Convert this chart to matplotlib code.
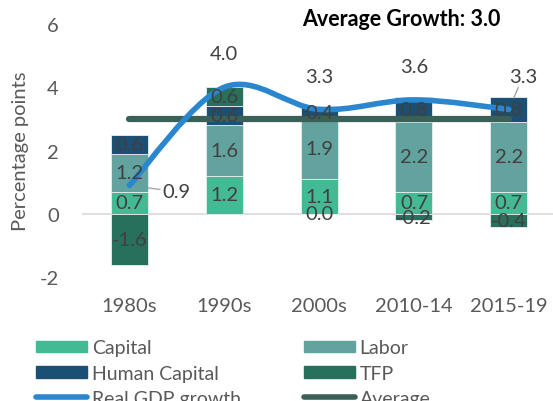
import matplotlib.pyplot as plt
import numpy as np
from matplotlib.patches import Patch, PathPatch
from matplotlib.lines import Line2D
from matplotlib.path import Path

plt.rcParams["font.family"] = ["Lato", "DejaVu Sans"]
plt.rcParams["axes.unicode_minus"] = False

# Data
periods = ["1980s", "1990s", "2000s", "2010-14", "2015-19"]
capital = [0.7, 1.2, 1.1, 0.7, 0.7]
labor = [1.2, 1.6, 1.9, 2.2, 2.2]
human_capital = [0.6, 0.6, 0.4, 0.8, 0.8]
tfp = [-1.6, 0.6, 0.0, -0.2, -0.4]
gdp_growth = [0.9, 4.0, 3.3, 3.6, 3.3]
average = 3.0

series = [
    ("Capital", capital, "#43BA94"),
    ("Labor", labor, "#62A39F"),
    ("Human Capital", human_capital, "#1B4F73"),
    ("TFP", tfp, "#27705C"),
]
gdp_color = "#2A86CF"
avg_color = "#3A6058"
label_color = "#404040"
tick_color = "#595959"

fig = plt.figure(figsize=(5.53, 4.02), dpi=100)
ax = fig.add_axes([0.148, 0.308, 0.858, 0.63])

x = np.arange(len(periods))
pos_bottom = np.zeros(len(periods))
neg_bottom = np.zeros(len(periods))

# Stacked bars with labels in the middle of each segment
for name, vals, color in series:
    vals = np.array(vals)
    bottoms = np.where(vals > 0, pos_bottom, neg_bottom)
    ax.bar(x, vals, 0.39, bottom=bottoms, color=color,
           edgecolor="#E8F0EE", linewidth=0.6, zorder=2)
    for xi, v, b in zip(x, vals, bottoms):
        ax.text(xi, b + v / 2, f"{v:.1f}", ha="center", va="center",
                fontsize=14.5, color=label_color, zorder=5)
    pos_bottom = np.where(vals > 0, pos_bottom + vals, pos_bottom)
    neg_bottom = np.where(vals > 0, neg_bottom, neg_bottom + vals)

# Average line
ax.plot([x[0], x[-1]], [average, average], color=avg_color, lw=4.5,
        solid_capstyle="round", zorder=3)

# Smoothed GDP growth line (Catmull-Rom style bezier, like Excel smoothing)
pts = np.column_stack([x, gdp_growth]).astype(float)
ext = np.vstack([pts[0], pts, pts[-1]])
verts = [pts[0]]
codes = [Path.MOVETO]
for i in range(len(pts) - 1):
    p0, p1, p2, p3 = ext[i], ext[i + 1], ext[i + 2], ext[i + 3]
    verts += [p1 + (p2 - p0) / 6, p2 - (p3 - p1) / 6, p2]
    codes += [Path.CURVE4] * 3
ax.add_patch(PathPatch(Path(verts, codes), facecolor="none",
                       edgecolor=gdp_color, lw=4, capstyle="round", zorder=4))

# GDP data labels
for i, v in enumerate(gdp_growth):
    if i == 0:
        ax.annotate(f"{v:.1f}", (x[i], v), xytext=(x[i] + 0.5, v - 0.2),
                    ha="center", va="center", fontsize=14.5, color=label_color,
                    arrowprops=dict(arrowstyle="-", color="#A6A6A6", lw=1,
                                    shrinkA=0, shrinkB=14))
    elif i == len(gdp_growth) - 1:
        ax.annotate(f"{v:.1f}", (x[i], v), xytext=(x[i] + 0.15, v + 1.05),
                    ha="center", va="center", fontsize=14.5, color=label_color,
                    arrowprops=dict(arrowstyle="-", color="#A6A6A6", lw=1,
                                    shrinkA=0, shrinkB=9))
    else:
        ax.text(x[i], v + 1.05, f"{v:.1f}", ha="center", va="center",
                fontsize=14.5, color=label_color)

ax.set_xlim(-0.5, len(periods) - 0.5)
ax.set_ylim(-2, 6)
ax.set_yticks([-2, 0, 2, 4, 6])
ax.set_xticks(x)
ax.set_xticklabels(periods)
ax.tick_params(axis="both", length=0, labelsize=14.5, colors=tick_color)
ax.tick_params(axis="x", pad=14)
ax.tick_params(axis="y", pad=16.5)
for s in ax.spines.values():
    s.set_visible(False)
ax.axhline(0, color="#D9D9D9", lw=1.2, zorder=1)
ax.set_ylabel("Percentage points", fontsize=14.5, color=tick_color, labelpad=8)

fig.text(0.725, 0.952, "Average Growth: 3.0", ha="center", va="center",
         fontsize=15.5, fontweight="bold", color="black")

handles = [
    Patch(color=series[0][2]),
    Patch(color=series[2][2]),
    Line2D([], [], color=gdp_color, lw=4, solid_capstyle="round"),
    Patch(color=series[1][2]),
    Patch(color=series[3][2]),
    Line2D([], [], color=avg_color, lw=4, solid_capstyle="round"),
]
labels = ["Capital", "Human Capital", "Real GDP growth", "Labor", "TFP", "Average"]
fig.legend(handles, labels, ncol=2, loc="upper left",
           bbox_to_anchor=(0.066, 0.153), frameon=False, fontsize=14,
           labelcolor=tick_color, handlelength=2.6, handleheight=0.55,
           handletextpad=0.25, labelspacing=0.42, columnspacing=3.25,
           borderpad=0, borderaxespad=0)

fig.savefig("out.png", dpi=100)
